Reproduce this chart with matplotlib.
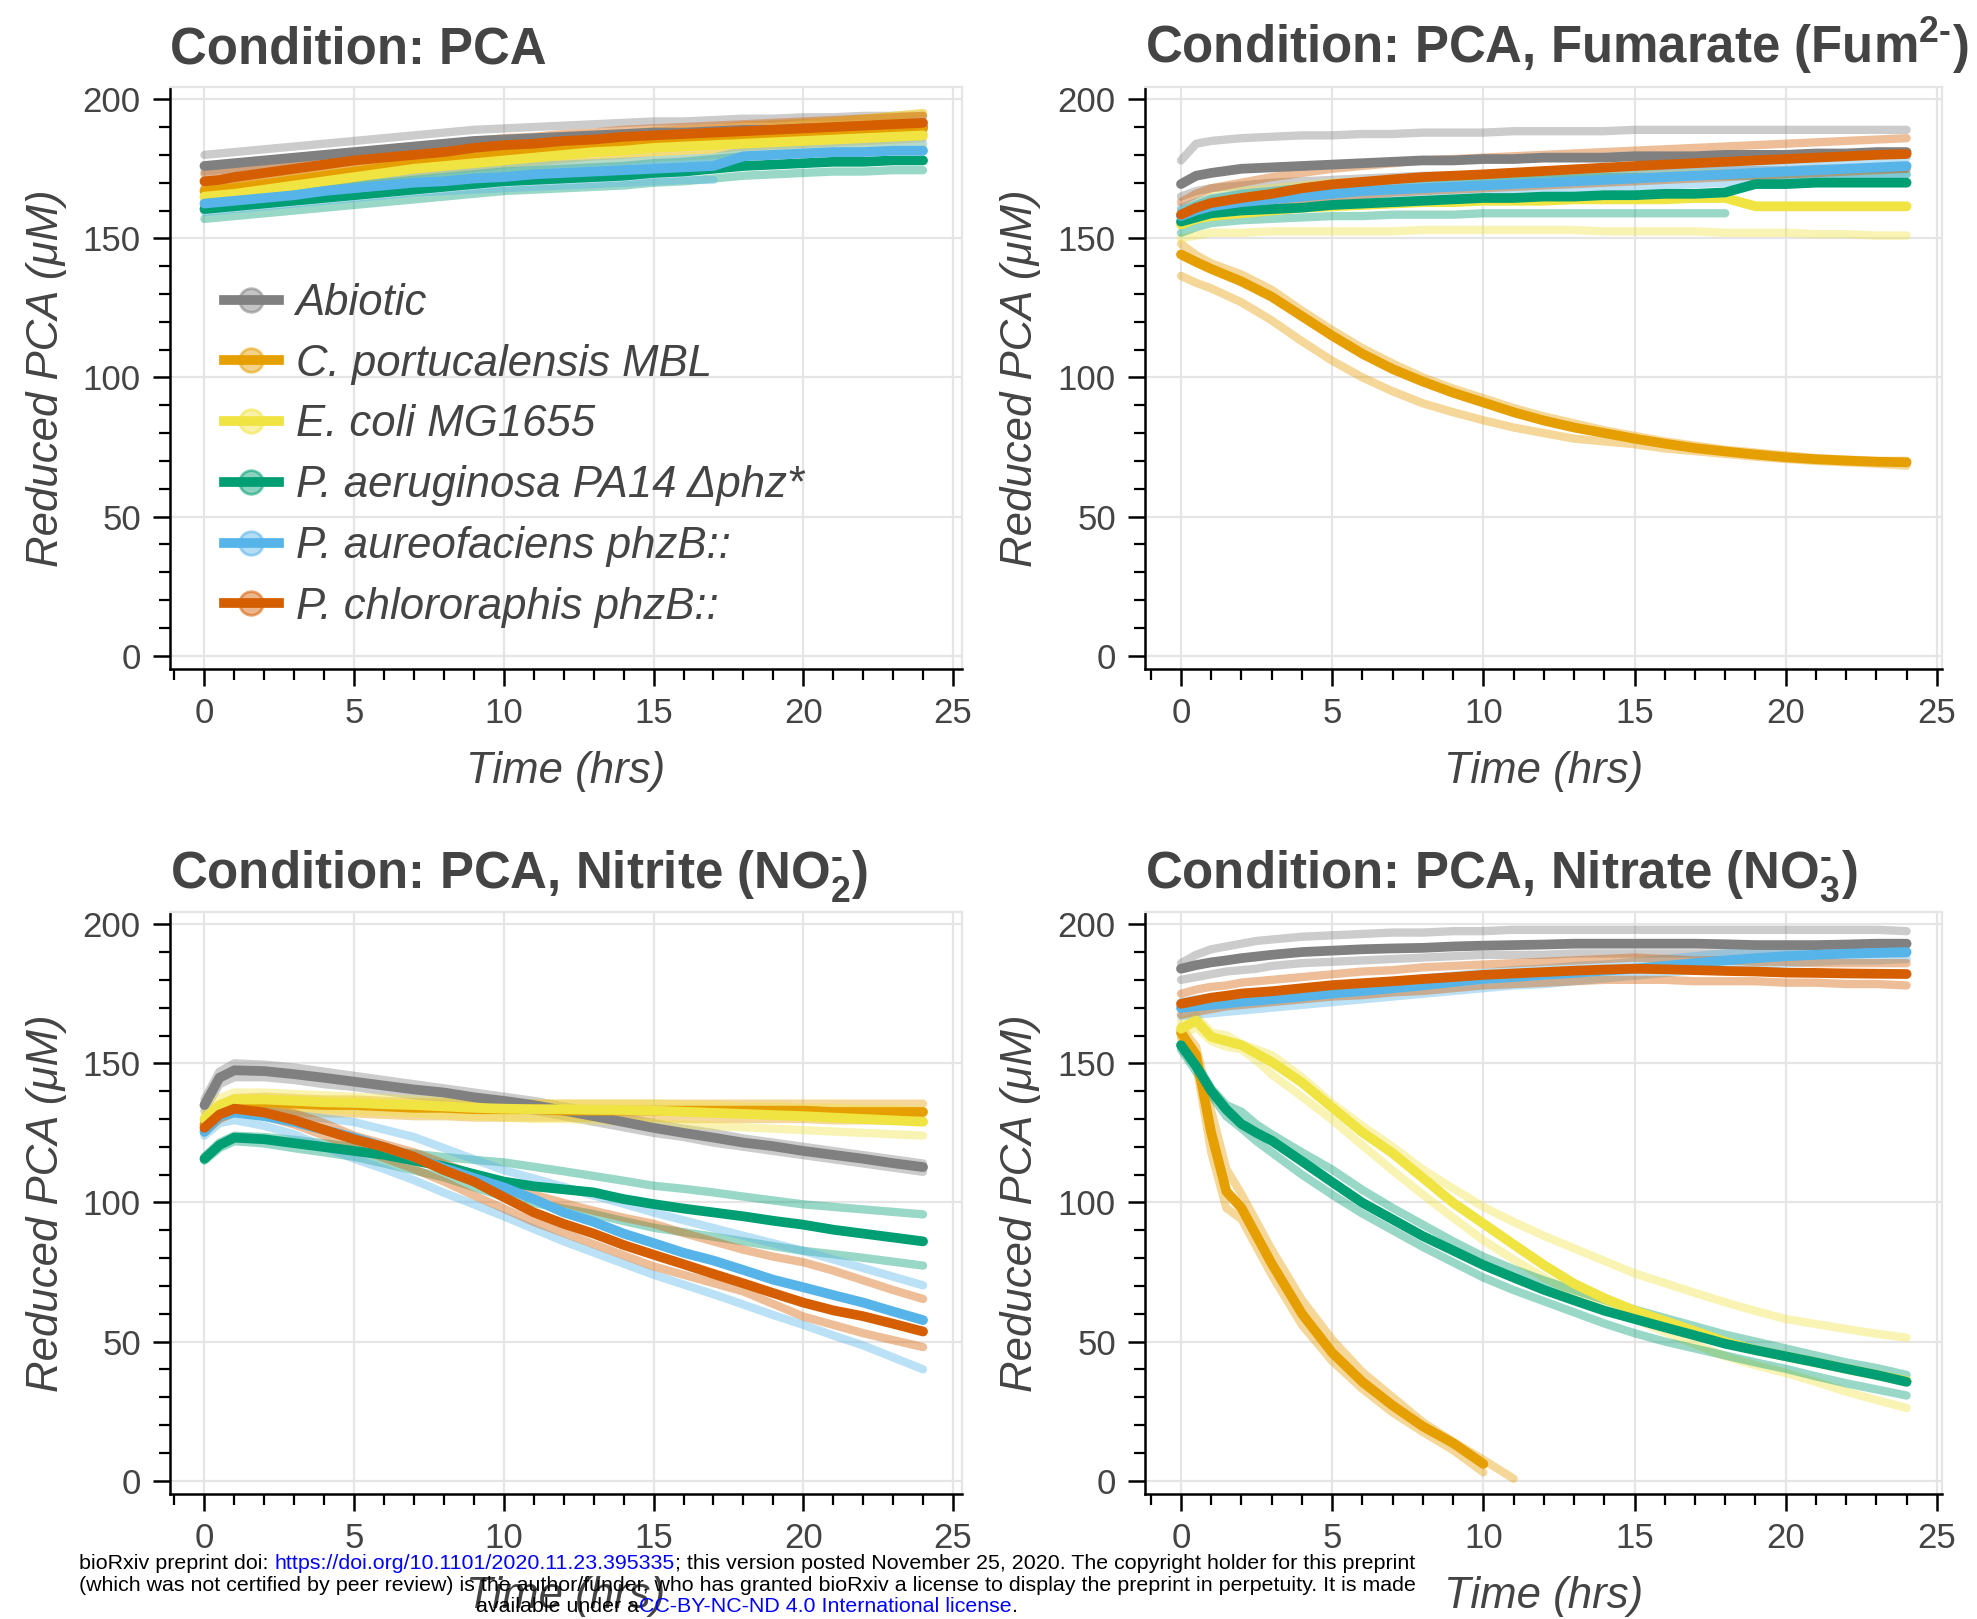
import numpy as np
import matplotlib
matplotlib.use("Agg")
import matplotlib.pyplot as plt
from matplotlib.lines import Line2D
from matplotlib.colors import to_rgba

nan = np.nan

plt.rcParams['font.family'] = ['Liberation Sans', 'DejaVu Sans']
plt.rcParams['mathtext.fontset'] = 'custom'
plt.rcParams['mathtext.rm'] = 'Liberation Sans:bold'
plt.rcParams['mathtext.bf'] = 'Liberation Sans:bold'
plt.rcParams['mathtext.it'] = 'Liberation Sans:italic'

# ---- data ----
STRAINS = ['Abiotic', 'C. portucalensis MBL', 'E. coli MG1655',
           'P. aeruginosa PA14 Δphz*', 'P. aureofaciens phzB::',
           'P. chlororaphis phzB::']
COLORS = ['#808080', '#E69F00', '#F0E442', '#009E73', '#56B4E9', '#D55E00']

TIME = [0, 0.5, 1, 2, 3, 4, 5, 6, 7, 8, 9, 10, 11, 12, 13, 14, 15, 16, 17,
        18, 19, 20, 21, 22, 23, 24]
NITRATE_TIME = [0, 0.5, 1, 1.5, 2, 2.5, 3, 4, 5, 6, 7, 8, 9, 10, 11, 12, 13,
                14, 15, 16, 17, 18, 19, 20, 21, 22, 23, 24]

# Condition: PCA
PCA_ABIOTIC = [176, 176.5, 177, 178, 179, 180, 181, 182, 183, 184, 185, 185.5, 186,
               186.5, 187, 187.5, 188, 188, 188.5, 189, 189, 189.5, 189.5, 190, 190, 190]
PCA_ABIOTIC_HI = [180, 180.5, 181, 182, 183, 184, 185, 186, 187, 188, 189, 189.5, 190,
                  190.5, 191, 191.5, 192, 192, 192.5, 193, 193, 193.5, 193.5, 194, 194, 194]
PCA_ABIOTIC_LO = [174, 174.5, 175, 176, 177, 178, 179, 180, 181, 182, 182.5, 183, 183.5,
                  184, 184.5, 185, 185.5, 186, 186, 186.5, 187, 187, 187.5, 187.5, 188, 188]
PCA_CPORT = [167, 167.5, 168, 169.5, 171, 172.5, 174, 175.5, 177, 178, 179, 180, 181,
             182, 183, 183.5, 184.5, 185, 185.5, 186.5, 187, 187.5, 188, 188.5, 189, 189.5]
PCA_CPORT_HI = [170, 170.5, 171, 173, 174.5, 176, 177.5, 179, 180.5, 181.5, 182.5, 183.5,
                184.5, 185.5, 186.5, 187.5, 188.5, 189, 189.5, 190.5, 191, 191.5, 192,
                193, 194, 195]
PCA_CPORT_LO = [164, 164.5, 165, 166.5, 168, 169.5, 171, 172, 173.5, 174.5, 175.5, 176.5,
                177.5, 178.5, 179.5, 180, 181, 181.5, 182, 183, 183.5, 184, 184.5, 185,
                185.5, 186]
PCA_ECOLI = [165, 165.5, 166, 167.5, 169, 170.5, 172, 173.5, 175, 176, 177, 178, 179,
             180, 181, 181.5, 182.5, 183, 183.5, 184, 184.5, 185, 185.5, 186, 186.5, 187]
PCA_ECOLI_HI = [168, 168.5, 169, 171, 172.5, 174, 175.5, 177, 178.5, 179.5, 180.5, 181.5,
                182.5, 183.5, 184.5, 185.5, 186.5, 187, 188, 189, 190, 191, 192, 193, 194, 195]
PCA_ECOLI_LO = [163, 163.5, 164, 165, 166.5, 168, 169.5, 170.5, 172, 173, 174, 175, 176,
                177, 177.5, 178, 179, 179.5, 180, 180.5, 181, 181.5, 182, 182.5, 183, 183]
PCA_PA14 = [160.5, 161, 161.5, 162.5, 163.5, 164.5, 165.5, 166.5, 167.5, 168.5, 169.5,
            170.5, 171, 171.5, 172, 172.5, 173.5, 174, 175, 176, 176.5, 177, 177.5, 177.5,
            178, 178]
PCA_PA14_HI = [163, 163.5, 164, 165.5, 167, 168, 169, 170, 171, 172, 173, 174, 174.5,
               175, 175.5, 176, 177, 177.5, 178.5, 179.5, 180, 180.5, 181, 181, 181.5, 181.5]
PCA_PA14_LO = [157, 157.5, 158, 159, 160, 161, 162, 163, 164, 165, 166, 167, 167.5, 168,
               168.5, 169, 170, 170.5, 171.5, 172.5, 173, 173.5, 174, 174, 174.5, 174.5]
PCA_AUREO = [162.5, 163, 163.5, 164.5, 165.5, 167, 168, 169, 170, 170.5, 171.5, 172, 173,
             173.5, 174, 174.5, 175, 175.5, 176, 179.5, 180, 180.5, 181, 181, 181.5, 181.5]
PCA_AUREO_HI = [165, 165.5, 166, 167, 168, 169.5, 170.5, 171.5, 172.5, 173.5, 174.5, 175,
                176, 176.5, 177, 177.5, 178, 178.5, 179, 181.5, 182, 182.5, 183, 183,
                183.5, 184]
PCA_AUREO_LO = [159.5, 160, 160.5, 161.5, 162.5, 163.5, 164.5, 165.5, 166.5, 167, 167.5,
                168, 168.5, 169, 169.5, 170, 170.5, 171, 171, nan, nan, nan, nan, nan,
                nan, nan]
PCA_CHLORO = [170.5, 171, 172, 173.5, 175, 176.5, 178, 179, 180, 181, 182.5, 183.5, 184,
              185, 185.5, 186.5, 187, 187.5, 188, 188.5, 189, 189.5, 190, 190.5, 191, 191.5]
PCA_CHLORO_HI = [173, 173.5, 174.5, 176, 177.5, 179, 180.5, 181.5, 182.5, 183.5, 185, 186,
                 186.5, 187.5, 188, 189, 189.5, 190, 190.5, 191, 191.5, 192, 192.5, 193,
                 193.5, 194]
PCA_CHLORO_LO = [168, 168.5, 169.5, 171, 172.5, 174, 175.5, 176.5, 177.5, 178.5, 180, 181,
                 181.5, 182.5, 183, 184, 184.5, 185, 185.5, 186, 186.5, 187, 187.5, 188,
                 188.5, 189]

# Condition: PCA, Fumarate
FUM_ABIOTIC = [169.5, 172.5, 173.5, 175, 175.5, 176, 176.5, 177, 177.5, 178, 178, 178.5,
               178.5, 179, 179, 179, 179.5, 179.5, 179.5, 180, 180, 180, 180.5, 180.5,
               181, 181]
FUM_ABIOTIC_HI = [178, 184, 185, 186, 186.5, 187, 187, 187.5, 187.5, 188, 188, 188, 188.5,
                  188.5, 188.5, 188.5, 189, 189, 189, 189, 189, 189, 189, 189, 189, 189]
FUM_ABIOTIC_LO = [165, 167, 168, 169, 170, 170.5, 171, 171.5, 172, 172.5, 172.5, 173, 173,
                  173.5, 173.5, 173.5, 174, 174, 174, 174.5, 174.5, 174.5, 175, 175, 175, 175]
FUM_CPORT = [144.2, 141.5, 139, 134.5, 129, 122, 115, 108.5, 103, 98.5, 94.5, 91, 87.5,
             84.5, 82, 80, 78, 76.2, 74.6, 73.4, 72.3, 71.3, 70.6, 70.1, 69.7, 69.5]
FUM_CPORT_HI = [148, 144, 141, 137, 131.5, 124, 117, 110.5, 105, 100, 96, 92.5, 89, 86,
                83.5, 81, 79, 77, 75.5, 74, 73, 72, 71, 70.5, 70, 70]
FUM_CPORT_LO = [136.5, 134, 132, 127, 120.5, 113, 106, 100, 95, 90.7, 87.5, 84.6, 82, 80,
                78, 77, 76, 74.5, 73.5, 72.5, 71.5, 70.7, 70, 69.5, 69, 68.3]
FUM_ECOLI = [155, 157, 158, 159, 160, 161, 161.5, 162, 162.5, 163, 163, 163.5, 163.5,
             163.5, 164, 164, 164, 164, 164.5, 164.5, 161.5, 161.5, 161.5, 161.5, 161.5, 161.5]
FUM_ECOLI_HI = [158, 163, 165, 167, 168, 169, 170, 170.5, 171, 171.5, 172, 172, 172.5,
                172.5, 173, 173, 173, 173, 173.5, 173.5, nan, nan, nan, nan, nan, nan]
FUM_ECOLI_LO = [150, 151, 152, 152, 152.5, 152.5, 152.5, 152.5, 152.5, 153, 153, 153, 153,
                153, 153, 152.5, 152.5, 152.5, 152.5, 152, 152, 152, 151.5, 151.5, 151, 151]
FUM_PA14 = [156, 157.5, 159, 160, 160.5, 161, 162, 162.5, 163, 163.5, 164, 164.5, 164.5,
            165, 165, 165.5, 165.5, 166, 166, 166.5, 169.5, 169.5, 170, 170, 170, 170]
FUM_PA14_HI = [160, 162, 164, 166, 167, 168, 168.5, 169, 169.5, 170, 170.5, 171, 171,
               171.5, 171.5, 172, 172, 172, 172.5, 172.5, 172.5, 172.5, 173, 173, 173, 173]
FUM_PA14_LO = [152, 154, 155.5, 156.5, 157, 157.5, 158, 158, 158.5, 158.5, 158.5, 159, 159,
               159, 159, 159, 159, 159, 159, 159, nan, nan, nan, nan, nan, nan]
FUM_AUREO = [158, 160, 161.5, 163, 164, 165, 166, 167, 167.5, 168, 168.5, 169, 169.5, 170,
             170.5, 171, 171.5, 172, 172.5, 173, 173.5, 174, 174.5, 175, 175.5, 176]
FUM_AUREO_HI = [161, 163, 164.5, 166, 167, 168, 169, 170, 170.5, 171, 171.5, 172, 172.5,
                173, 173.5, 174, 174.5, 175, 175.5, 176, 176.5, 177, 177.5, 178, 178.5, 179]
FUM_AUREO_LO = [155, 157, 158.5, 160, 161, 162, 163, 164, 164.5, 165, 165.5, 166, 166.5,
                167, 167.5, 168, 168.5, 169, 169.5, 170, 170.5, 171, 171.5, 172, 172.5, 173]
FUM_CHLORO = [158.5, 161, 162.7, 164.5, 166, 168, 169.4, 170.3, 171.2, 172, 172.5, 173,
              173.6, 174.2, 174.8, 175.4, 176, 176.5, 177, 177.5, 178, 178.5, 179, 179.5,
              180, 180.3]
FUM_CHLORO_HI = [163, 166, 168, 170, 172, 173.5, 175, 176, 177, 178, 178.5, 179, 179.5,
                 180, 180.5, 181, 181.5, 182, 182.5, 183, 183.5, 184, 184.5, 185, 185.5, 186]
FUM_CHLORO_LO = [155, 157, 158.5, 160, 161.5, 163, 164.5, 165.5, 166.5, 167, 167.5, 168,
                 168.5, 169, 169.5, 170, 170.5, 171, 171.5, 172, 172.5, 173, 173.5, 174,
                 174.5, 175]

# Condition: PCA, Nitrite
NO2_ABIOTIC = [135, 144.8, 147.5, 147.2, 146.1, 144.8, 143.4, 142, 140.6, 139.5, 137.8,
               136.5, 135, 133, 131, 128.9, 126.8, 125, 123.3, 121.5, 120.2, 118.5, 117.1,
               115.7, 114.1, 112.7]
NO2_ABIOTIC_HI = [137, 147, 150, 149.5, 148.5, 147, 145.5, 144, 142.5, 141, 139.5, 138,
                  136.5, 134.5, 132.5, 130.5, 128.5, 126.5, 125, 123, 121.5, 120, 118.5,
                  117, 115.5, 114]
NO2_ABIOTIC_LO = [133, 142.5, 145, 145, 144, 142.5, 141.5, 140, 138.5, 137.5, 136, 134.5,
                  133, 131, 129, 127, 125, 123.5, 121.5, 120, 118.5, 117, 115.5, 114,
                  112.5, 111]
NO2_CPORT = [128, 133, 135.5, 136, 135.5, 135, 135, 134.5, 134, 134, 133.5, 133.5, 133.5,
             133, 133, 133, 133, 133, 133, 133, 133, 133, 132.5, 132.5, 132.5, 132.5]
NO2_CPORT_HI = [130, 135, 137.5, 138, 137.5, 137, 137, 136.5, 136, 136, 135.5, 135.5, 135.5,
                135.5, 135.5, 135.5, 135.5, 135.5, 135.5, 135.5, 135.5, 135.5, 135.5,
                135.5, 135.5, 135.5]
NO2_CPORT_LO = [125, 130, 132.5, 133, 132.5, 132, 132, 131.5, 131, 131, 130.5, 130.5, 130.5,
                130.5, 130.5, 130.5, 130.5, 130, 130, 130, 130, 130, 129.5, 129.5, 129.5,
                129.5]
NO2_ECOLI = [130, 135, 137, 137, 136.5, 136, 135.8, 135.3, 135, 134.5, 134, 133.7, 133.5,
             133.5, 133.3, 133.2, 133, 132.6, 132.2, 131.8, 131.4, 131, 130.5, 130, 129.5, 129]
NO2_ECOLI_HI = [132, 137.5, 139.5, 139.5, 139, 138.5, 138, 137.5, 137, 136.5, 136, 135.5,
                135.5, 135.5, 135.5, 135.5, 135.5, 135, 135, 134.5, 134.5, 134, 134, 133.5,
                133.5, 133]
NO2_ECOLI_LO = [127, 132, 134.5, 134.5, 134, 133.5, 133, 132.5, 132, 131.5, 131, 130.5, 130,
                130, 129.5, 129, 128.5, 128, 127.5, 127, 126.5, 126, 125.5, 125, 124.5, 124]
NO2_PA14 = [115.7, 120.6, 123.3, 122.7, 121.3, 119.9, 118.5, 117.1, 115, 113, 110.2, 107.5,
            105.8, 104.7, 103.6, 101.2, 99.4, 97.8, 96.4, 95, 93.4, 92, 90.2, 88.8, 87.4, 86]
NO2_PA14_HI = [116.4, 121.5, 124, 123.5, 122.5, 121.2, 120, 118.8, 117.5, 116.3, 115.3,
               114.4, 112.8, 111.2, 109.5, 107.8, 106, 104.9, 103.6, 102.1, 100.7, 99.3,
               98.4, 97.5, 96.6, 95.7]
NO2_PA14_LO = [115, 119.5, 122, 121.2, 119.5, 118, 116.4, 114, 111.5, 109, 105.5, 102, 99.8,
               97.8, 95.8, 93.3, 90.9, 89.3, 87.7, 86, 84.3, 82.6, 81.4, 80.1, 78.7, 77.3]
NO2_AUREO = [125.4, 131, 132.3, 131, 128.9, 126.1, 123.3, 119.9, 116.4, 112.3, 108.8,
             105.4, 101.2, 96.4, 93, 88.8, 85.4, 81.9, 79.1, 75.7, 72.2, 69.5, 66.7, 64,
             60.8, 57.7]
NO2_AUREO_HI = [126.8, 132.5, 133.7, 133, 131.5, 130.2, 128.9, 126.2, 123.5, 119.5, 115.5,
                111.6, 108.6, 105.6, 102.5, 99.5, 96.4, 93.6, 90.8, 88, 85.3, 82.6, 79.5,
                76.4, 73.3, 70.2]
NO2_AUREO_LO = [124, 128.5, 129.6, 127.5, 124.5, 120, 115.7, 112, 108, 103.5, 99.3, 95,
                90.5, 86, 82, 78, 74, 70.5, 67, 63.3, 59.5, 56, 52.2, 48.6, 44.3, 40]
NO2_CHLORO = [126.8, 131.6, 133.7, 132.3, 129.6, 126.1, 122.7, 119.9, 116.4, 111.6, 107.5,
              101.9, 96.4, 92.3, 88.8, 84.7, 81.2, 77.8, 74.3, 70.9, 67.4, 64, 61.2, 59.1,
              56.4, 53.6]
NO2_CHLORO_HI = [129, 134, 135.8, 134.5, 132, 128.5, 124, 121, 118, 114, 110, 106, 102.8,
                 99.8, 97, 94.5, 92.3, 89, 86, 83, 80.5, 78.5, 75.5, 72, 68.5, 65.3]
NO2_CHLORO_LO = [125.4, 130, 132.3, 131, 128, 124, 120, 116, 112, 107.5, 102.5, 97.8, 93,
                 89, 85, 81, 77, 74, 71, 68, 63.5, 59, 56, 53, 50.5, 48]

# Condition: PCA, Nitrate (uses NITRATE_TIME)
NO3_ABIOTIC = [184, 185.3, 186.3, 187, 187.8, 188.4, 189, 190, 190.5, 191, 191.3, 191.5,
               192, 192.3, 192.5, 192.7, 193, 193, 193, 193, 193, 192.8, 192.5, 192.5,
               192.5, 192.7, 193, 193]
NO3_ABIOTIC_HI = [186, 189, 191, 192, 193, 194, 194.5, 195.5, 196, 196.5, 197, 197, 197.5,
                  197.5, 198, 198, 198, 198, 198, 198, 198, 198, 198, 198, 198, 198, 198,
                  197.5]
NO3_ABIOTIC_LO = [180, 181, 182, 183, 183.5, 184, 185, 186, 186.5, 187, 187.5, 188, 188.5,
                  189, 189, 189, 189.5, 189.5, 189.5, 189.5, 189.5, 189.5, 189.5, 189.5,
                  189.5, 189.5, 189.5, 189.5]
NO3_CPORT = [161, 153, 125, 104, 98, 88, 78, 60, 46, 35.5, 27, 19.5, 13.5, 6, nan, nan,
             nan, nan, nan, nan, nan, nan, nan, nan, nan, nan, nan, nan]
NO3_CPORT_HI = [163, 156, 133, 112, 103, 93, 83, 65, 50.7, 39, 30, 21, 14, 7.5, 0.7, nan,
                nan, nan, nan, nan, nan, nan, nan, nan, nan, nan, nan, nan]
NO3_CPORT_LO = [159, 150, 118, 98, 94, 84, 74, 56, 43, 33, 24.5, 17.5, 11, 3, nan, nan,
                nan, nan, nan, nan, nan, nan, nan, nan, nan, nan, nan, nan]
NO3_ECOLI = [162.4, 165.4, 159.5, 158, 156.5, 153.5, 150.5, 143.1, 134.1, 125.2, 117.7,
             108.8, 99.9, 92.4, 84.9, 77.5, 70.8, 65.6, 61.1, 57.4, 53.7, 49.9, 46.9, 44.7,
             42.5, 40.2, 38, 35.8]
NO3_ECOLI_HI = [165, 167, 161, 160, 157, 155, 153, 145, 135.6, 127.5, 120, 111.8, 105,
                98.4, 93, 88, 83.5, 79, 74.5, 71, 67.5, 64.1, 61, 58.1, 56.3, 54.5, 52.8,
                51.4]
NO3_ECOLI_LO = [160, 163, 158, 156, 155, 151, 146, 138, 129.7, 120.5, 111.5, 102.8, 94.5,
                86.4, 79.5, 73, 67.5, 62.5, 58.1, 53.5, 49, 44.7, 41.5, 38.7, 35.5, 32, 29,
                26.1]
NO3_PA14 = [156.5, 149, 140.1, 133.4, 128.2, 125, 122.2, 114.8, 107.3, 99.9, 93.9, 87.9,
            82.7, 77.5, 73, 68.6, 64.8, 61.1, 58.1, 55.1, 52.2, 49.2, 46.9, 44.7, 42.5,
            40.2, 38, 35.5]
NO3_PA14_HI = [157, 150, 141, 135, 132.6, 128, 124.5, 118, 111.8, 104.5, 98, 92, 86, 80.5,
               76, 72, 68.5, 65, 61.5, 58.5, 55.5, 52.5, 50, 47.5, 45, 42.5, 40.5, 38]
NO3_PA14_LO = [155, 147, 138.6, 131, 126.7, 122, 118, 110, 102.8, 96, 90, 84, 78.5, 73,
               68.5, 64.5, 60.5, 56.5, 53, 50, 47.5, 45, 42.5, 40.2, 37.5, 35, 32.8, 30.6]
NO3_AUREO = [169.9, 170.5, 171, 171.5, 172.1, 172.5, 173, 174, 175.1, 176, 177, 178, 179.2,
             180.3, 181, 181.8, 182.5, 183.3, 184, 185, 186, 187, 187.8, 188.5, 189, 189.4,
             189.7, 190]
NO3_AUREO_HI = [172, 173, 173.5, 174, 174.5, 175, 175.5, 176.5, 177.5, 178.5, 179.5, 180.5,
                181.5, 182.5, 183.5, 184, 185, 185.5, 186.5, 187.5, 188.5, 189.5, 190, 191,
                191.5, 192, 192.5, 193]
NO3_AUREO_LO = [167, 167.5, 168, 168.5, 169, 169.5, 170, 171, 172, 173, 174, 175, 176, 177,
                178, 178.5, 179.5, 180.5, 181.5, 182.5, 183.5, 184.5, 185, 186, 186.5, 187,
                187, 187.5]
NO3_CHLORO = [171.4, 172.5, 173.6, 174.3, 175.1, 175.5, 175.9, 177, 178.1, 178.8, 179.5,
              180.3, 181, 181.8, 182.3, 182.8, 183.3, 183.7, 184, 183.8, 183.5, 183.2, 183,
              182.6, 182.5, 182.3, 182.2, 182.1]
NO3_CHLORO_HI = [175, 176.5, 177.5, 178, 179, 179.5, 180, 181, 182, 183, 183.5, 184.5, 185,
                 185.5, 186, 186.5, 187, 187.5, 188, 187.5, 187, 187, 186.5, 186.5, 186,
                 186, 186, 186]
NO3_CHLORO_LO = [167.5, 168.5, 169.5, 170.5, 171, 171.5, 172, 173, 174, 174.5, 175.5, 176,
                 177, 178, 178.5, 179, 179.5, 180, 180, 180, 179.5, 179.5, 179.5, 179, 179,
                 178.5, 178.5, 178]

PANELS = [
    ('Condition: PCA', TIME,
     [PCA_ABIOTIC, PCA_CPORT, PCA_ECOLI, PCA_PA14, PCA_AUREO, PCA_CHLORO],
     [PCA_ABIOTIC_HI, PCA_CPORT_HI, PCA_ECOLI_HI, PCA_PA14_HI, PCA_AUREO_HI, PCA_CHLORO_HI],
     [PCA_ABIOTIC_LO, PCA_CPORT_LO, PCA_ECOLI_LO, PCA_PA14_LO, PCA_AUREO_LO, PCA_CHLORO_LO]),
    (r'Condition: PCA, Fumarate (Fum$^{2\text{-}}$)', TIME,
     [FUM_ABIOTIC, FUM_CPORT, FUM_ECOLI, FUM_PA14, FUM_AUREO, FUM_CHLORO],
     [FUM_ABIOTIC_HI, FUM_CPORT_HI, FUM_ECOLI_HI, FUM_PA14_HI, FUM_AUREO_HI, FUM_CHLORO_HI],
     [FUM_ABIOTIC_LO, FUM_CPORT_LO, FUM_ECOLI_LO, FUM_PA14_LO, FUM_AUREO_LO, FUM_CHLORO_LO]),
    (r'Condition: PCA, Nitrite (NO$_{2}^{\text{-}}$)', TIME,
     [NO2_ABIOTIC, NO2_CPORT, NO2_ECOLI, NO2_PA14, NO2_AUREO, NO2_CHLORO],
     [NO2_ABIOTIC_HI, NO2_CPORT_HI, NO2_ECOLI_HI, NO2_PA14_HI, NO2_AUREO_HI, NO2_CHLORO_HI],
     [NO2_ABIOTIC_LO, NO2_CPORT_LO, NO2_ECOLI_LO, NO2_PA14_LO, NO2_AUREO_LO, NO2_CHLORO_LO]),
    (r'Condition: PCA, Nitrate (NO$_{3}^{\text{-}}$)', NITRATE_TIME,
     [NO3_ABIOTIC, NO3_CPORT, NO3_ECOLI, NO3_PA14, NO3_AUREO, NO3_CHLORO],
     [NO3_ABIOTIC_HI, NO3_CPORT_HI, NO3_ECOLI_HI, NO3_PA14_HI, NO3_AUREO_HI, NO3_CHLORO_HI],
     [NO3_ABIOTIC_LO, NO3_CPORT_LO, NO3_ECOLI_LO, NO3_PA14_LO, NO3_AUREO_LO, NO3_CHLORO_LO]),
]

# ---- layout (pixel boxes: left, top, right, bottom) ----
W, H = 1977, 1619
BOXES = [(170, 86.7, 962, 669), (1145, 86.7, 1942, 669),
         (170, 911.7, 962, 1494), (1145, 911.7, 1942, 1494)]
XLIMS = [(-1.15, 25.3), (-1.19, 25.17), (-1.15, 25.3), (-1.19, 25.17)]
TEXT = '#444444'

fig = plt.figure(figsize=(W / 100, H / 100), dpi=100)

axes = []
for (title, t, means, his, los), box, xl in zip(PANELS, BOXES, XLIMS):
    l, tp, r, b = box
    ax = fig.add_axes([l / W, 1 - b / H, (r - l) / W, (b - tp) / H])
    axes.append(ax)
    t = np.array(t, dtype=float)
    # replicates first, then the averaged traces on top
    for c, hi, lo in zip(COLORS, his, los):
        for rep in (hi, lo):
            ax.plot(t, np.array(rep, dtype=float), color=c, alpha=0.4, lw=6,
                    solid_capstyle='round', solid_joinstyle='round')
    for c, m in zip(COLORS, means):
        ax.plot(t, np.array(m, dtype=float), color=c, lw=7,
                solid_capstyle='round', solid_joinstyle='round')

    ax.set_xlim(*xl)
    ax.set_ylim(-4.8, 204.5)
    ax.set_xticks([0, 5, 10, 15, 20, 25])
    ax.set_xticks(np.arange(-1, 26), minor=True)
    ax.set_yticks([0, 50, 100, 150, 200])
    ax.set_yticks(np.arange(0, 201, 10), minor=True)
    ax.grid(True, which='major', color='#e5e5e5', lw=1.6)
    ax.set_axisbelow(True)
    for s in ('top', 'right'):
        ax.spines[s].set_color('#e5e5e5')
        ax.spines[s].set_linewidth(1.6)
    for s in ('left', 'bottom'):
        ax.spines[s].set_color('black')
        ax.spines[s].set_linewidth(1.8)
    ax.tick_params(which='major', length=12, width=1.8, color='black',
                   labelsize=25, labelcolor=TEXT)
    ax.tick_params(axis='y', which='major', pad=9)
    ax.tick_params(axis='x', which='major', pad=8)
    ax.tick_params(which='minor', length=8, width=1.6, color='black')

    ax.set_title(title, loc='left', fontsize=36.7, fontweight='bold', color=TEXT, pad=17)
    ax.set_xlabel('Time (hrs)', fontsize=31.5, style='italic', color=TEXT)
    ax.set_ylabel('Reduced PCA (μM)', fontsize=31.5, style='italic', color=TEXT)
    ax.xaxis.set_label_coords(0.5, -0.14)
    ax.yaxis.set_label_coords(-0.13, 0.5)

handles = [Line2D([0], [0], color=c, lw=7, marker='o', markersize=17,
                  markerfacecolor=to_rgba(c, 0.45), markeredgecolor=to_rgba(c, 0.55),
                  markeredgewidth=2)
           for c in COLORS]
leg = axes[0].legend(handles, STRAINS, loc='center left', bbox_to_anchor=(0.068, 0.367),
                     frameon=False, fontsize=31.5, handlelength=1.26, handletextpad=0.38,
                     labelspacing=0.45, borderpad=0, borderaxespad=0)
for txt in leg.get_texts():
    txt.set_color(TEXT)
    txt.set_style('italic')

# ---- preprint footer (mixed colour lines, centred) ----
FOOTER = [
    (1563.6, [("bioRxiv preprint doi: ", 'black'),
              ("https://doi.org/10.1101/2020.11.23.395335", 'blue'),
              ("; this version posted November 25, 2020. The copyright holder for this preprint",
               'black')]),
    (1585.0, [("(which was not certified by peer review) is the author/funder, who has granted "
               "bioRxiv a license to display the preprint in perpetuity. It is made", 'black')]),
    (1606.4, [("available under a", 'black'),
              ("CC-BY-NC-ND 4.0 International license", 'blue'),
              (".", 'black')]),
]
renderer = fig.canvas.get_renderer()


def text_w(s, fs):
    tt = fig.text(0, 0, s + '|', fontsize=fs)
    w = tt.get_window_extent(renderer).width
    tt.remove()
    tb = fig.text(0, 0, '|', fontsize=fs)
    wb = tb.get_window_extent(renderer).width
    tb.remove()
    return w - wb


line1 = ''.join(s for s, _ in FOOTER[0][1])
fs = 10 * 1336 / text_w(line1, 10)
cx = 747
for y, parts in FOOTER:
    full = ''.join(s for s, _ in parts)
    x0 = cx - text_w(full, fs) / 2
    prefix = ''
    for s, c in parts:
        fig.text((x0 + text_w(prefix, fs)) / W, 1 - y / H, s, fontsize=fs, color=c,
                 va='center', ha='left')
        prefix += s

fig.savefig('out.png', dpi=100)
